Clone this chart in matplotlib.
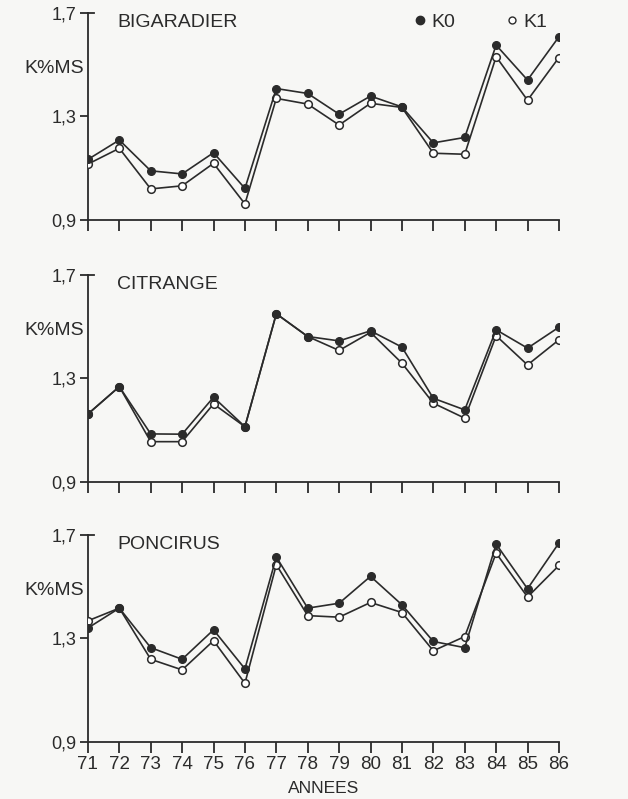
import matplotlib
matplotlib.use("Agg")
import matplotlib.pyplot as plt
from matplotlib.lines import Line2D
from matplotlib.ticker import FixedLocator, FuncFormatter

# K content (% dry matter) of leaves, 1971-1986, for three rootstocks
YEARS = [71, 72, 73, 74, 75, 76, 77, 78, 79, 80, 81, 82, 83, 84, 85, 86]
ROOTSTOCKS = ["BIGARADIER", "CITRANGE", "PONCIRUS"]

BIG_K0 = [1.134, 1.209, 1.090, 1.078, 1.160, 1.022, 1.408, 1.389,
          1.309, 1.379, 1.337, 1.198, 1.219, 1.576, 1.441, 1.608]
BIG_K1 = [1.116, 1.177, 1.020, 1.032, 1.119, 0.962, 1.370, 1.348,
          1.267, 1.351, 1.335, 1.158, 1.154, 1.531, 1.363, 1.528]

CIT_K0 = [1.162, 1.268, 1.085, 1.084, 1.227, 1.113, 1.550, 1.462,
          1.445, 1.484, 1.421, 1.223, 1.178, 1.488, 1.417, 1.498]
CIT_K1 = [1.162, 1.268, 1.055, 1.055, 1.201, 1.113, 1.550, 1.462,
          1.408, 1.478, 1.359, 1.204, 1.146, 1.465, 1.352, 1.449]

PON_K0 = [1.340, 1.417, 1.264, 1.219, 1.333, 1.182, 1.615, 1.417,
          1.436, 1.540, 1.430, 1.288, 1.264, 1.665, 1.492, 1.669]
PON_K1 = [1.368, 1.417, 1.219, 1.178, 1.291, 1.126, 1.585, 1.388,
          1.382, 1.439, 1.400, 1.252, 1.307, 1.630, 1.460, 1.582]

K0_SERIES = [BIG_K0, CIT_K0, PON_K0]
K1_SERIES = [BIG_K1, CIT_K1, PON_K1]
Y_TICKS = [0.9, 1.3, 1.7]

INK = "#2b2b2b"
PAPER = "#f7f7f5"

plt.rcParams.update({
    "font.family": ["Liberation Sans", "DejaVu Sans"],
    "font.size": 12,
    "text.color": INK,
    "axes.edgecolor": INK,
    "xtick.color": INK,
    "ytick.color": INK,
    "axes.labelcolor": INK,
})

fig = plt.figure(figsize=(6.28, 7.99), dpi=100, facecolor=PAPER)

# left, bottom, width, height in figure fraction
BOXES = [
    (0.140, 0.7247, 0.750, 0.259),
    (0.140, 0.3971, 0.750, 0.2587),
    (0.140, 0.0717, 0.750, 0.2587),
]

comma = FuncFormatter(lambda v, _: f"{v:.1f}".replace(".", ","))

for i, (name, k0, k1) in enumerate(zip(ROOTSTOCKS, K0_SERIES, K1_SERIES)):
    ax = fig.add_axes(BOXES[i])
    ax.set_facecolor(PAPER)

    ax.plot(YEARS, k1, color=INK, linewidth=1.2, marker="o", markersize=5.5,
            markerfacecolor="white", markeredgecolor=INK, markeredgewidth=1.1,
            zorder=3)
    ax.plot(YEARS, k0, color=INK, linewidth=1.2, marker="o", markersize=5.5,
            markerfacecolor=INK, markeredgecolor=INK, zorder=4)

    ax.set_xlim(71, 86)
    ax.set_ylim(0.9, 1.7)
    ax.xaxis.set_major_locator(FixedLocator(YEARS))
    ax.yaxis.set_major_locator(FixedLocator(Y_TICKS))
    ax.yaxis.set_major_formatter(comma)

    for side in ("top", "right"):
        ax.spines[side].set_visible(False)
    for side in ("left", "bottom"):
        ax.spines[side].set_linewidth(1.3)
        ax.spines[side].set_clip_on(False)

    ax.tick_params(axis="y", direction="out", length=6, width=1.3,
                   labelsize=13, pad=2)
    ax.tick_params(axis="x", direction="out", length=8, width=1.3,
                   labelsize=13.5, pad=2)
    if i < 2:
        ax.tick_params(axis="x", labelbottom=False)
    else:
        ax.set_xlabel("ANNEES", fontsize=12.5, labelpad=6)

    # small hook at the top of the y axis
    ax.plot([71, 71.2], [1.7, 1.7], color=INK, linewidth=1.3, clip_on=False)

    ax.text(-0.008, 0.73, "K%MS", transform=ax.transAxes, ha="right",
            va="center", fontsize=14)
    ax.text(0.062, 0.955, name, transform=ax.transAxes, ha="left",
            va="center", fontsize=14)

    if i == 0:
        handles = [
            Line2D([], [], linestyle="none", marker="o", markersize=6,
                   markerfacecolor=INK, markeredgecolor=INK),
            Line2D([], [], linestyle="none", marker="o", markersize=5,
                   markerfacecolor="white", markeredgecolor=INK,
                   markeredgewidth=1.0),
        ]
        ax.legend(handles, ["K0", "K1"], ncol=2, loc="center left",
                  bbox_to_anchor=(0.672, 0.955), frameon=False,
                  handlelength=0.6, handletextpad=0.3, columnspacing=2.6,
                  borderpad=0, fontsize=14)

fig.savefig("out.png", dpi=100, facecolor=PAPER)
